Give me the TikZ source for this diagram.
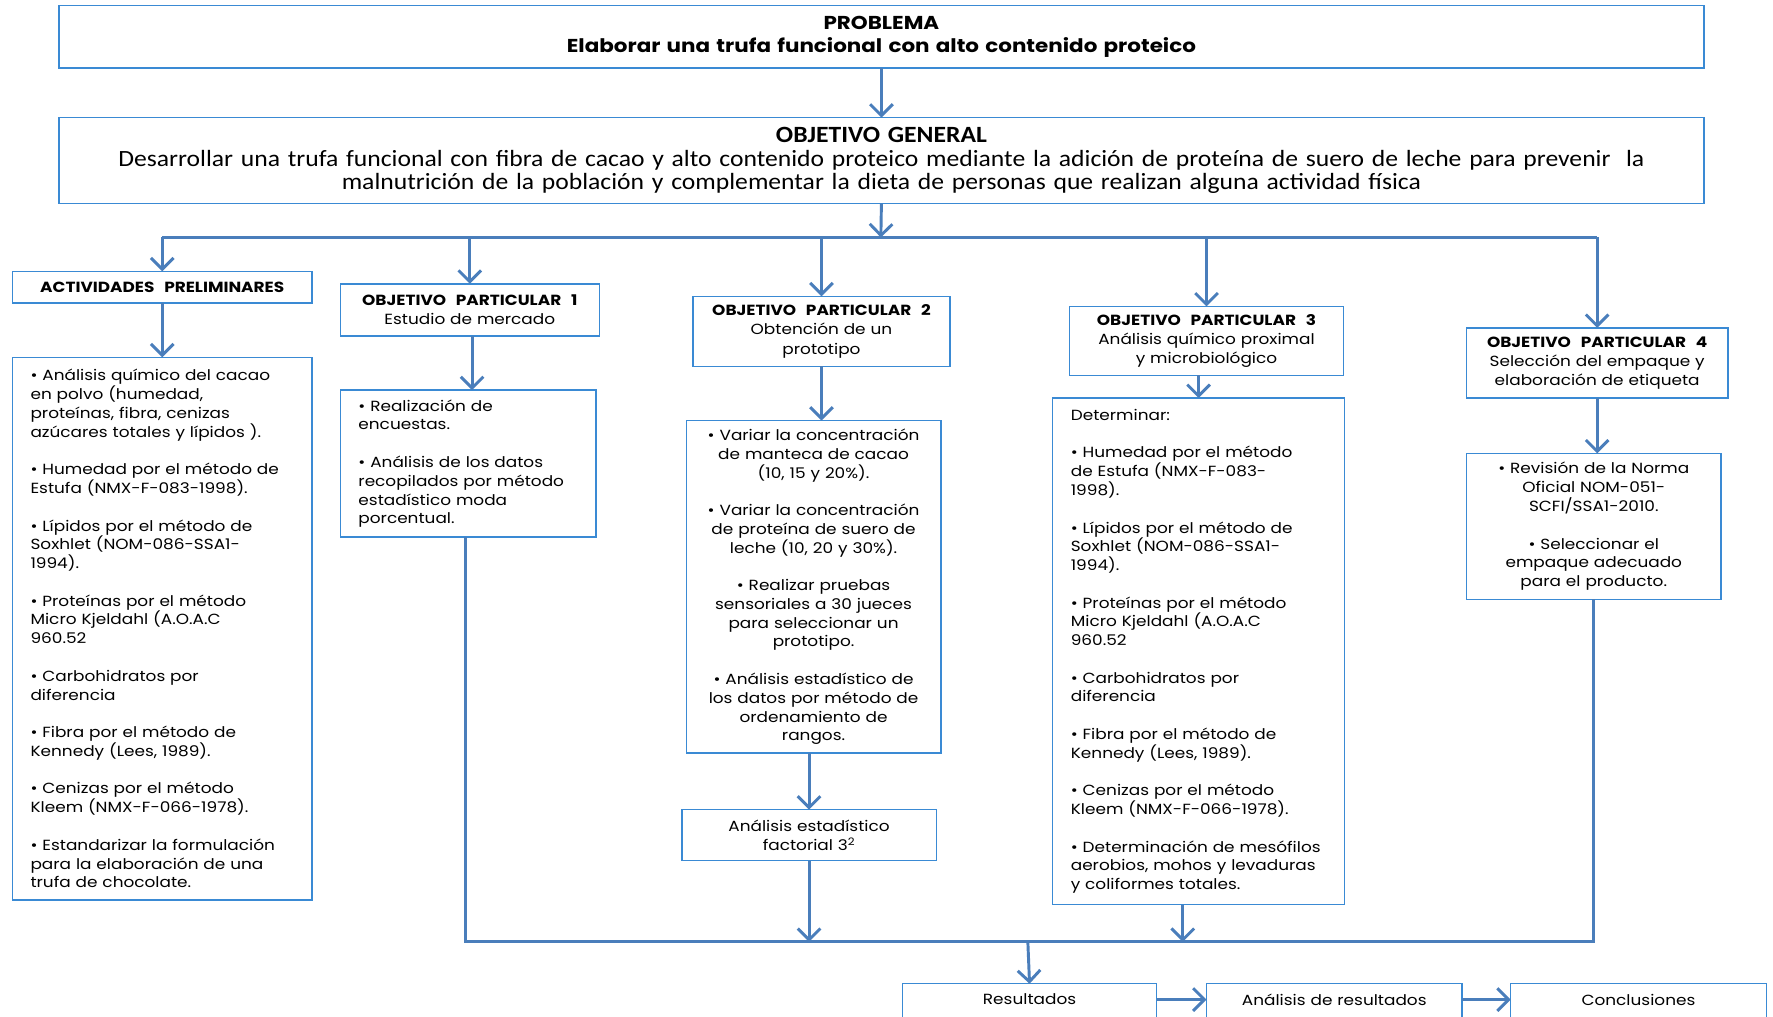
\documentclass[tikz,border=0pt]{standalone}
\usepackage{fontspec}
\setmainfont{Poppins}[FakeStretch=1.15]
\newfontfamily\calfont{Carlito}[FakeStretch=1.1]
\usetikzlibrary{arrows.meta,calc}
\definecolor{boxblue}{HTML}{3A8AD4}
\definecolor{lineblue}{HTML}{4A7EBB}
\begin{document}
\begin{tikzpicture}[x=1pt,y=-1pt,
 box/.style={draw=boxblue,line width=1.3pt,fill=white,anchor=north west,inner ysep=0pt,outer sep=0pt},
 head/.style={box,align=center,font=\fontsize{13}{17}\selectfont,inner xsep=4pt},
 lst/.style={box,align=left,font=\fontsize{13}{16.6}\selectfont,inner xsep=16pt},
 clst/.style={box,align=center,font=\fontsize{13}{16.6}\selectfont,inner xsep=6pt},
 conn/.style={draw=lineblue,line width=2.6pt},
 arr/.style={conn,-{Straight Barb[length=10pt,width=20pt]}}]
\useasboundingbox (0,0) rectangle (1568,899);
\clip (0,0) rectangle (1568,899);
\fill[white] (0,0) rectangle (1568,899);

% top
\node[head,minimum width=1455pt,text width=1447pt,minimum height=55pt,font=\bfseries\fontsize{16.5}{21}\selectfont] (prob) at (52,5)
 {PROBLEMA\\Elaborar una trufa funcional con alto contenido proteico};
\node[head,minimum width=1455pt,text width=1447pt,minimum height=76pt,font=\calfont\fontsize{20.6}{21}\selectfont] (gen) at (52,104)
 {{\bfseries OBJETIVO GENERAL}\\Desarrollar una trufa funcional con fibra de cacao y alto contenido proteico mediante la adición de proteína de suero de leche para prevenir\ \ la\\malnutrición de la población y complementar la dieta de personas que realizan alguna actividad física};

% headings
\node[head,minimum width=265pt,text width=257pt,minimum height=28pt] (ap) at (11,240)
 {\textbf{ACTIVIDADES\ \ PRELIMINARES}};
\node[head,minimum width=229pt,text width=221pt,minimum height=46pt] (op1) at (301,251)
 {\textbf{OBJETIVO\ \ PARTICULAR\ \ 1}\\Estudio de mercado};
\node[head,minimum width=227pt,text width=219pt,minimum height=62pt] (op2) at (613,262)
 {\textbf{OBJETIVO\ \ PARTICULAR\ \ 2}\\Obtención de un\\prototipo};
\node[head,minimum width=242pt,text width=234pt,minimum height=61pt] (op3) at (946,271)
 {\textbf{OBJETIVO\ \ PARTICULAR\ \ 3}\\Análisis químico proximal\\y microbiológico};
\node[head,minimum width=231pt,text width=223pt,minimum height=62pt] (op4) at (1297,290)
 {\textbf{OBJETIVO\ \ PARTICULAR\ \ 4}\\Selección del empaque y\\elaboración de etiqueta};

% lists
\node[lst,minimum width=265pt,text width=233pt,minimum height=480pt] (l0) at (11,316)
 {• Análisis químico del cacao\\en polvo (humedad,\\proteínas, fibra, cenizas\\azúcares totales y lípidos ).\\[16.6pt]
  • Humedad por el método de\\Estufa (NMX-F-083-1998).\\[16.6pt]
  • Lípidos por el método de\\Soxhlet (NOM-086-SSA1-\\1994).\\[16.6pt]
  • Proteínas por el método\\Micro Kjeldahl (A.O.A.C\\960.52\\[16.6pt]
  • Carbohidratos por\\diferencia\\[16.6pt]
  • Fibra por el método de\\Kennedy (Lees, 1989).\\[16.6pt]
  • Cenizas por el método\\Kleem (NMX-F-066-1978).\\[16.6pt]
  • Estandarizar la formulación\\para la elaboración de una\\trufa de chocolate.};
\node[lst,minimum width=226pt,text width=194pt,minimum height=130pt] (l1) at (301,345)
 {• Realización de\\encuestas.\\[16.6pt]
  • Análisis de los datos\\recopilados por método\\estadístico moda\\porcentual.};
\node[clst,minimum width=225pt,text width=213pt,minimum height=294pt] (l2) at (607,372)
 {• Variar la concentración\\de manteca de cacao\\(10, 15 y 20\%).\\[16.6pt]
  • Variar la concentración\\de proteína de suero de\\leche (10, 20 y 30\%).\\[16.6pt]
  • Realizar pruebas\\sensoriales a 30 jueces\\para seleccionar un\\prototipo.\\[16.6pt]
  • Análisis estadístico de\\los datos por método de\\ordenamiento de\\rangos.};
\node[clst,minimum width=225pt,text width=213pt,minimum height=45pt] (fact) at (603,716)
 {Análisis estadístico\\factorial 3\textsuperscript{2}};
\node[lst,minimum width=258pt,text width=226pt,minimum height=448pt] (l3) at (931,352)
 {Determinar:\\[16.6pt]
  • Humedad por el método\\de Estufa (NMX-F-083-\\1998).\\[16.6pt]
  • Lípidos por el método de\\Soxhlet (NOM-086-SSA1-\\1994).\\[16.6pt]
  • Proteínas por el método\\Micro Kjeldahl (A.O.A.C\\960.52\\[16.6pt]
  • Carbohidratos por\\diferencia\\[16.6pt]
  • Fibra por el método de\\Kennedy (Lees, 1989).\\[16.6pt]
  • Cenizas por el método\\Kleem (NMX-F-066-1978).\\[16.6pt]
  • Determinación de mesófilos\\aerobios, mohos y levaduras\\y coliformes totales.};
\node[clst,minimum width=225pt,text width=213pt,minimum height=129pt] (l4) at (1297,401)
 {• Revisión de la Norma\\Oficial NOM-051-\\SCFI/SSA1-2010.\\[16.6pt]
  • Seleccionar el\\empaque adecuado\\para el producto.};

% bottom
\node[clst,minimum width=225pt,text width=213pt,inner ysep=9pt,text depth=34pt] (res) at (798,870) {Resultados};
\node[clst,minimum width=226pt,text width=214pt,inner ysep=9pt,text depth=34pt] (ana) at (1067,870) {Análisis de resultados};
\node[clst,minimum width=226pt,text width=214pt,inner ysep=9pt,text depth=34pt] (con) at (1336,870) {Conclusiones};

% connectors
\coordinate (bus) at (779,210);
\coordinate (bus2) at (909,833);
\draw[arr] (prob.south) -- (gen.north);
\draw[arr] (gen.south) -- (bus);
\draw[conn] (ap.north |- bus) -- (op4.north |- bus);
\draw[arr] (ap.north |- bus) -- (ap.north);
\draw[arr] (op1.north |- bus) -- (op1.north);
\draw[arr] (op2.north |- bus) -- (op2.north);
\draw[arr] (op3.north |- bus) -- (op3.north);
\draw[arr] (op4.north |- bus) -- (op4.north);
\draw[arr] (ap.south) -- (l0.north);
\draw[arr] ([xshift=2pt]op1.south) -- ([xshift=2pt]op1.south |- l1.north);
\draw[arr] (op2.south) -- (op2.south |- l2.north);
\draw[arr] (l3.north |- op3.south) -- (l3.north);
\draw[arr] (op4.south) -- (op4.south |- l4.north);
\draw[arr] (fact.north |- l2.south) -- (fact.north);
\draw[conn] ([xshift=-2pt]l1.south) -- ([xshift=-2pt]l1.south |- bus2) -- (l4.south |- bus2) -- (l4.south);
\draw[arr] (fact.south) -- (fact.south |- bus2);
\draw[arr] ([xshift=-14pt]l3.south) -- ([xshift=-14pt]l3.south |- bus2);
\draw[arr] (bus2) -- (res.north);
\draw[arr] ([yshift=-14pt]res.north east) -- ([yshift=-14pt]ana.north west);
\draw[arr] ([yshift=-14pt]ana.north east) -- ([yshift=-14pt]con.north west);
\end{tikzpicture}
\end{document}
